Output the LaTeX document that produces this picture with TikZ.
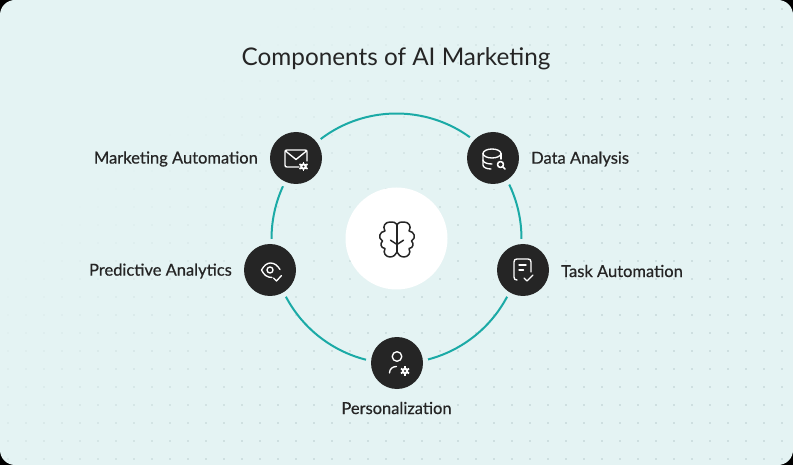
\documentclass[tikz,border=0pt]{standalone}
\usepackage{fontspec}
\setmainfont{Lato}
\newfontfamily\labelfont[FakeBold=0.5]{Lato}
\definecolor{panel}{HTML}{E4F3F3}
\definecolor{teal}{HTML}{1BAAA6}
\definecolor{ink}{HTML}{252525}
\definecolor{dotc}{HTML}{B9CCCD}
\pgfdeclarelayer{ringlayer}
\pgfsetlayers{ringlayer,main}
\tikzset{
  halo/.style={circle,fill=panel,inner sep=0pt,minimum size=62pt,outer sep=0pt},
  disc/.style={circle,fill=ink,inner sep=0pt,minimum size=52pt,outer sep=0pt},
  lab/.style={font=\labelfont\fontsize{16.5}{18}\selectfont,text=ink,inner sep=0pt},
  ico/.style={draw=white,line width=1.35pt,line cap=round,line join=round},
  ringseg/.style={draw=teal,line width=2pt},
  brainline/.style={draw=ink,line width=1.5pt,line cap=round,line join=round}
}
\newcommand{\gearat}[2]{%
  \foreach \a in {0,60,...,300}{\draw[white,line width=1.7pt] (#1,#2) -- ++(\a+30:4.7);}
  \fill[white] (#1,#2) circle (3.3);
  \fill[ink] (#1,#2) circle (1.2);}
\begin{document}
\begin{tikzpicture}[x=1pt,y=-1pt]
\useasboundingbox (0,0) rectangle (793,465);
\begin{pgfonlayer}{ringlayer}
\fill[black] (0,0) rectangle (793,465);
\fill[panel,rounded corners=15pt] (0,0) rectangle (793,465);
\foreach \i in {0,...,43}{
  \foreach \j in {0,...,25}{
    \pgfmathsetmacro{\ox}{8+18*\i}
    \pgfmathsetmacro{\oy}{9+18*\j}
    \pgfmathsetmacro{\op}{min(1,max(0,(\ox+1.1*\oy-300)/420))}
    \fill[dotc,opacity=\op] (\ox,\oy) circle (0.9);
  }
}
\end{pgfonlayer}

\node[circle,fill=white,minimum size=102pt,inner sep=0pt] (hub) at (396.5,238.5) {};
\node[halo] (mkt) at (296,158) {};
\node[halo] (dat) at (493,158) {};
\node[halo] (tsk) at (523,270) {};
\node[halo] (per) at (397,363) {};
\node[halo] (pre) at (270,270) {};
\node[disc] at (mkt) {};
\node[disc] at (dat) {};
\node[disc] at (tsk) {};
\node[disc] at (per) {};
\node[disc] at (pre) {};

\coordinate (rmkt) at ([shift={(-141.3:125)}]hub.center);
\coordinate (rdat) at ([shift={(-39.8:125)}]hub.center);
\coordinate (rtsk) at ([shift={(14:125)}]hub.center);
\coordinate (rper) at ([shift={(90:125)}]hub.center);
\coordinate (rpre) at ([shift={(166:125)}]hub.center);

\begin{pgfonlayer}{ringlayer}
\draw[ringseg] (rmkt) to[bend left=50.75,looseness=1.043] (rdat);
\draw[ringseg] (rdat) to[bend left=26.9,looseness=0.900] (rtsk);
\draw[ringseg] (rtsk) to[bend left=38,looseness=0.952] (rper);
\draw[ringseg] (rper) to[bend left=38,looseness=0.952] (rpre);
\draw[ringseg] (rpre) to[bend left=26.35,looseness=0.899] (rmkt);
\end{pgfonlayer}

\node[font=\fontsize{24.3}{28}\selectfont,text=ink,inner sep=0pt] (title) at (396,59) {Components of AI Marketing};
\node[lab,anchor=east] (lmkt) at (258,159) {Marketing Automation};
\node[lab,anchor=west] (ldat) at (531,159) {Data Analysis};
\node[lab,anchor=east] (lpre) at (232,271) {Predictive Analytics};
\node[lab,anchor=west] (ltsk) at (561,271) {Task Automation};
\node[lab] (lper) at (396.5,408) {Personalization};

% envelope
\draw[ico] (299,167) -- (287,167) .. controls (285.5,167) and (285,166.5) .. (285,165) -- (285,152) .. controls (285,150.5) and (285.5,150) .. (287,150) -- (305,150) .. controls (306.5,150) and (307,150.5) .. (307,152) -- (307,161);
\draw[ico] (285.5,151) -- (296,159.5) -- (306.5,151);
\gearat{303.5}{166.5}

% database
\draw[ico] (492,153.5) ellipse [x radius=9,y radius=4.5];
\draw[ico] (483,153.5) -- (483,165) .. controls (483,167.5) and (487,169) .. (491,169);
\draw[ico] (483,160) .. controls (483,162.5) and (487,164) .. (492,164);
\draw[ico] (501,153.5) -- (501,159);
\draw[ico,line width=1.6pt] (500.5,164.5) circle (3);
\draw[ico,line width=1.6pt] (502.8,166.8) -- (505,169);

% eye
\draw[ico] (261.5,270) .. controls (264,265.5) and (267,263) .. (270.5,263) .. controls (274.5,263) and (277.5,265.5) .. (280,269.5);
\draw[ico] (261.5,270) .. controls (264,275) and (267,277.5) .. (272,277.5);
\draw[ico] (270,270) circle (3);
\draw[ico] (273.5,278) -- (276.5,281) -- (281.5,275.5);

% document
\draw[ico] (517,280) .. controls (515,280) and (514,279) .. (514,277) -- (514,262) .. controls (514,260) and (515,259) .. (517,259) -- (528,259) .. controls (530,259) and (531,260) .. (531,262) -- (531,272);
\draw[ico] (519,265) -- (526,265);
\draw[ico] (519,270) -- (523.5,270);
\draw[ico] (524,278) -- (527,281) -- (533,275);

% person
\draw[ico] (397,356.5) circle (4.8);
\draw[ico] (389.5,373) .. controls (389.5,369) and (392.5,366.5) .. (396.5,366.5);
\gearat{405}{371}

% brain
\foreach \s in {1,-1}{
\begin{scope}[shift={(397,239.5)},xscale=\s]
\draw[brainline] (0,-15) .. controls (-1,-17) and (-4,-18) .. (-7,-17.5)
  .. controls (-11.5,-17.5) and (-15,-13.5) .. (-12,-8.5)
  .. controls (-17.5,-8) and (-19.5,-1.5) .. (-14.5,1.5)
  .. controls (-17,4) and (-16.5,8.5) .. (-12,9)
  .. controls (-14.5,13.5) and (-11,17.5) .. (-7,17.5)
  .. controls (-3.5,17.5) and (-1,15) .. (0,12.5);
\draw[brainline] (0,5) -- (-6.5,0.7);
\end{scope}}
\draw[brainline] (397,224.5) -- (397,252);
\end{tikzpicture}
\end{document}
